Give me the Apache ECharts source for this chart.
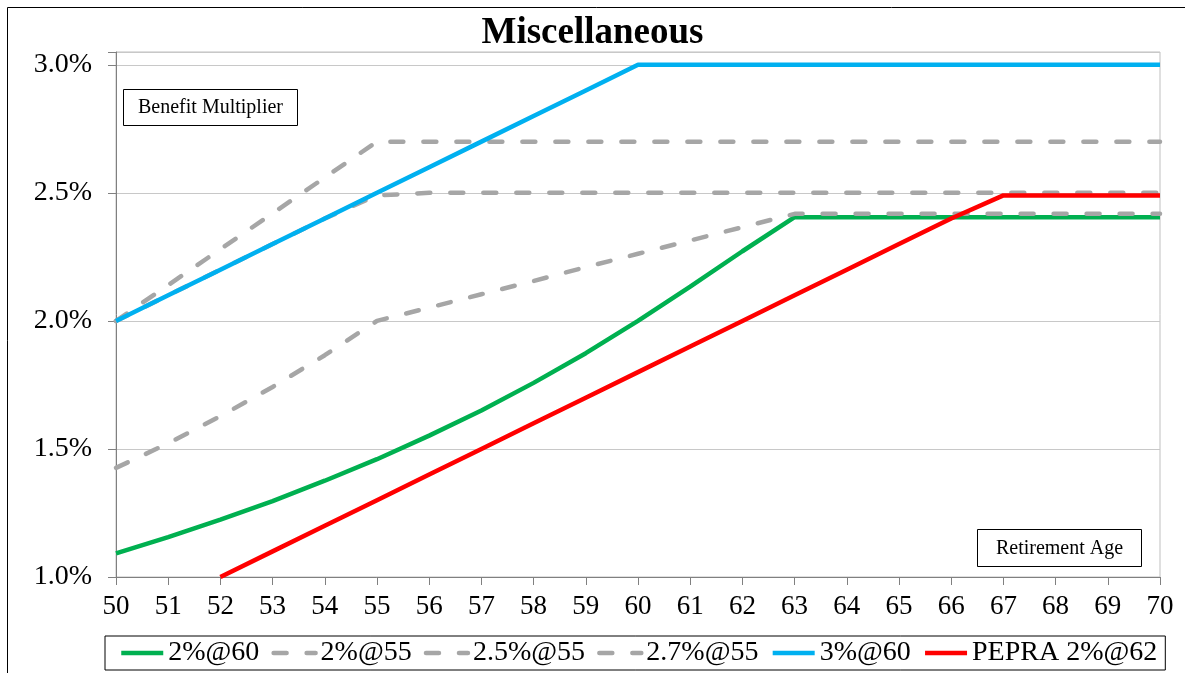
<!DOCTYPE html>
<html>
<head>
<meta charset="utf-8">
<script src="https://cdn.jsdelivr.net/npm/echarts@6/dist/echarts.min.js"></script>
<style>
html,body{margin:0;padding:0;background:#fff;}
#chart{width:1185px;height:673px;}
</style>
</head>
<body>
<div id="chart"></div>
<script>
var ages = [50,51,52,53,54,55,56,57,58,59,60,61,62,63,64,65,66,67,68,69,70];
var yTicks = [1.0,1.5,2.0,2.5,3.0];
var names = ['2%@60','2%@55','2.5%@55','2.7%@55','3%@60','PEPRA 2%@62'];
var v2at60  = [1.092,1.156,1.224,1.296,1.376,1.460,1.552,1.650,1.758,1.874,2.000,2.134,2.272,2.405,2.405,2.405,2.405,2.405,2.405,2.405,2.405];
var v2at55  = [1.426,1.522,1.628,1.742,1.866,2.000,2.052,2.104,2.156,2.210,2.262,2.314,2.366,2.418,2.418,2.418,2.418,2.418,2.418,2.418,2.418];
var v25at55 = [2.00,2.10,2.20,2.30,2.40,2.49,2.50,2.50,2.50,2.50,2.50,2.50,2.50,2.50,2.50,2.50,2.50,2.50,2.50,2.50,2.50];
var v27at55 = [2.00,2.14,2.28,2.42,2.56,2.70,2.70,2.70,2.70,2.70,2.70,2.70,2.70,2.70,2.70,2.70,2.70,2.70,2.70,2.70,2.70];
var v3at60  = [2.00,2.10,2.20,2.30,2.40,2.50,2.60,2.70,2.80,2.90,3.00,3.00,3.00,3.00,3.00,3.00,3.00,3.00,3.00,3.00,3.00];
var vPepra  = [null,null,1.00,1.10,1.20,1.30,1.40,1.50,1.60,1.70,1.80,1.90,2.00,2.10,2.20,2.30,2.40,2.49,2.49,2.49,2.49];

var FONT = "'Liberation Serif','Times New Roman',serif";
var GREEN = '#00B050', GRAY = '#A6A6A6', BLUE = '#00B0F0', RED = '#FF0000';

function pairs(vals){ return ages.map(function(a,i){ return [a, vals[i]]; }); }
function mk(name, vals, color, dashed){
  return {
    name: name, type: 'line', data: pairs(vals), showSymbol: false, symbol: 'none',
    connectNulls: false, animation: false,
    lineStyle: { color: color, width: 4.5, type: dashed ? [13, 20] : 'solid', cap: dashed ? 'round' : 'butt' },
    itemStyle: { color: color }
  };
}

var chart = echarts.init(document.getElementById('chart'), null, {renderer: 'canvas'});
chart.setOption({
  animation: false,
  backgroundColor: '#fff',
  title: {
    text: 'Miscellaneous', left: 'center', top: 15, padding: 0,
    textStyle: { fontFamily: FONT, fontSize: 37, fontWeight: 'bold', color: '#000' }
  },
  grid: {
    left: 116, right: 25, top: 52, bottom: 96, containLabel: false,
    show: true, borderColor: '#BFBFBF', borderWidth: 1
  },
  xAxis: {
    type: 'value', min: ages[0], max: ages[ages.length-1], interval: 1,
    axisLine: { show: true, lineStyle: { color: '#808080', width: 1 } },
    axisTick: { show: true, inside: false, length: 8, lineStyle: { color: '#808080' } },
    splitLine: { show: false },
    axisLabel: { fontFamily: FONT, fontSize: 27, color: '#000', margin: 16 }
  },
  yAxis: {
    type: 'value', min: yTicks[0], max: 3.05, interval: 0.5,
    axisLine: { show: true, lineStyle: { color: '#808080', width: 1 } },
    axisTick: { show: true, inside: false, length: 8, lineStyle: { color: '#808080' } },
    splitLine: { show: true, lineStyle: { color: '#C8C8C8', width: 1 } },
    axisLabel: {
      fontFamily: FONT, fontSize: 28, color: '#000', margin: 24,
      formatter: function(v){
        for (var i = 0; i < yTicks.length; i++) { if (Math.abs(v - yTicks[i]) < 1e-9) return yTicks[i].toFixed(1) + '%'; }
        return '';
      }
    }
  },
  legend: {
    data: names, left: 105, top: 636, orient: 'horizontal',
    padding: [3, 8, 3, 14], borderColor: '#000', borderWidth: 1,
    itemWidth: 42, itemHeight: 14, itemGap: 12,
    itemStyle: { opacity: 0 },
    lineStyle: { width: 4.5 },
    textStyle: { fontFamily: FONT, fontSize: 28, color: '#000' }
  },
  series: [
    mk(names[0], v2at60, GREEN, false),
    mk(names[1], v2at55, GRAY, true),
    mk(names[2], v25at55, GRAY, true),
    mk(names[3], v27at55, GRAY, true),
    mk(names[4], v3at60, BLUE, false),
    mk(names[5], vPepra, RED, false)
  ],
  graphic: [
    { type: 'rect', left: 5, top: 5, shape: { width: 1200, height: 700 }, style: { fill: 'none', stroke: '#000', lineWidth: 1 }, silent: true, z: 100 },
    { type: 'group', left: 123, top: 89, children: [
      { type: 'rect', shape: { x: 0, y: 0, width: 174, height: 36 }, style: { fill: '#fff', stroke: '#000', lineWidth: 1 } },
      { type: 'text', x: 87, y: 18, style: { text: 'Benefit Multiplier', fontFamily: FONT, fontSize: 20, fill: '#000', align: 'center', verticalAlign: 'middle' } }
    ], z: 90 },
    { type: 'group', left: 977, top: 529, children: [
      { type: 'rect', shape: { x: 0, y: 0, width: 164, height: 37 }, style: { fill: '#fff', stroke: '#000', lineWidth: 1 } },
      { type: 'text', x: 82, y: 19, style: { text: 'Retirement Age', fontFamily: FONT, fontSize: 20, fill: '#000', align: 'center', verticalAlign: 'middle' } }
    ], z: 90 }
  ]
});
</script>
</body>
</html>
